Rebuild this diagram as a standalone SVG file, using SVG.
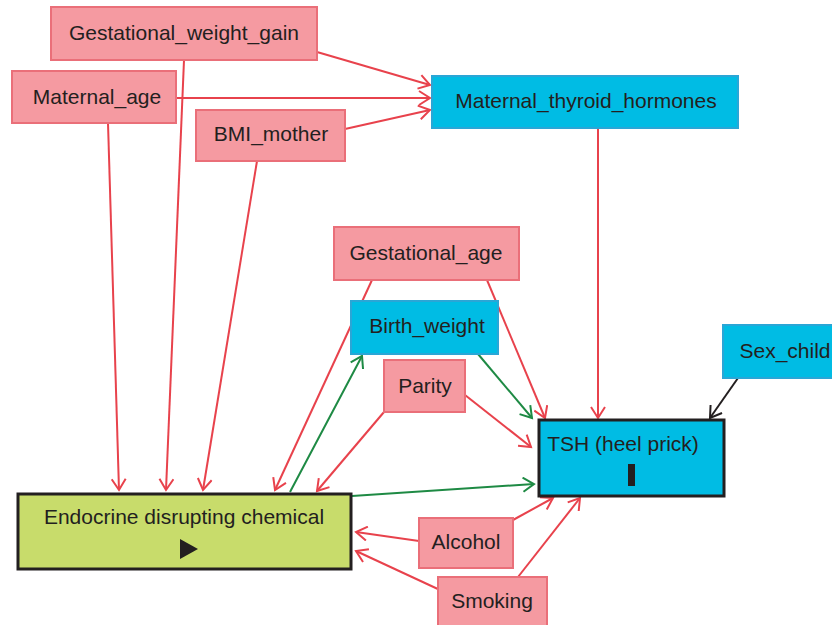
<svg xmlns="http://www.w3.org/2000/svg" width="832" height="625" viewBox="0 0 832 625">
<style>
.pink{fill:#f59aa1;stroke:#ea6f79;stroke-width:2}
.blue{fill:#00bce4;stroke:#2aa6d6;stroke-width:2}
.tsh{fill:#00bce4;stroke:#231f20;stroke-width:3}
.edc{fill:#c8dc6b;stroke:#231f20;stroke-width:3}
text{font-family:"Liberation Sans",Arial,sans-serif;font-size:21px;fill:#231f20;text-anchor:middle}
.r{stroke:#e8424c;stroke-width:2;fill:none;marker-end:url(#ar)}
.g{stroke:#1e8a44;stroke-width:2;fill:none;marker-end:url(#ag)}
.k{stroke:#231f20;stroke-width:2;fill:none;marker-end:url(#ak)}
</style>
<defs>
<marker id="ar" markerUnits="userSpaceOnUse" markerWidth="16" markerHeight="16" refX="13" refY="8" orient="auto" viewBox="0 0 16 16"><path d="M2,1 L13,8 L2,15" fill="none" stroke="#e8424c" stroke-width="2"/></marker>
<marker id="ag" markerUnits="userSpaceOnUse" markerWidth="16" markerHeight="16" refX="13" refY="8" orient="auto" viewBox="0 0 16 16"><path d="M2,1 L13,8 L2,15" fill="none" stroke="#1e8a44" stroke-width="2"/></marker>
<marker id="ak" markerUnits="userSpaceOnUse" markerWidth="16" markerHeight="16" refX="13" refY="8" orient="auto" viewBox="0 0 16 16"><path d="M2,1 L13,8 L2,15" fill="none" stroke="#231f20" stroke-width="2"/></marker>
</defs>
<g id="connectors">
<line class="r" x1="317" y1="52" x2="430" y2="85"/>
<line class="r" x1="176" y1="98" x2="430" y2="98"/>
<line class="r" x1="345" y1="129" x2="430" y2="110"/>
<line class="r" x1="598" y1="128" x2="598" y2="418"/>
<line class="r" x1="108" y1="123" x2="119" y2="490"/>
<line class="r" x1="184" y1="60" x2="166" y2="490"/>
<line class="r" x1="257" y1="161" x2="203" y2="490"/>
<line class="r" x1="372" y1="280" x2="275" y2="490"/>
<line class="r" x1="487" y1="280" x2="545" y2="418"/>
<line class="g" x1="478" y1="354" x2="532" y2="418"/>
<line class="r" x1="465" y1="395" x2="531" y2="447"/>
<line class="r" x1="384" y1="412" x2="317" y2="491"/>
<line class="g" x1="290" y1="492" x2="362" y2="356"/>
<line class="g" x1="352" y1="496" x2="534" y2="484"/>
<line class="r" x1="419" y1="541" x2="356" y2="532"/>
<line class="r" x1="440" y1="590" x2="356" y2="551"/>
<line class="r" x1="513" y1="520" x2="553" y2="498"/>
<line class="r" x1="518" y1="577" x2="580" y2="498"/>
<line class="k" x1="738" y1="378" x2="710" y2="418"/>
</g>
<g id="n_gwg"><rect class="pink" x="51" y="7" width="266" height="53"/><text x="184" y="40">Gestational_weight_gain</text></g>
<g id="n_mage"><rect class="pink" x="12" y="71" width="164" height="52"/><text x="97" y="104">Maternal_age</text></g>
<g id="n_bmi"><rect class="pink" x="196" y="110" width="149" height="51"/><text x="271" y="141">BMI_mother</text></g>
<g id="n_mth"><rect class="blue" x="432" y="76" width="306" height="52"/><text x="586" y="108">Maternal_thyroid_hormones</text></g>
<g id="n_gage"><rect class="pink" x="334" y="227" width="185" height="53"/><text x="426" y="260">Gestational_age</text></g>
<g id="n_bw"><rect class="blue" x="351" y="301" width="147" height="53"/><text x="427" y="333">Birth_weight</text></g>
<g id="n_parity"><rect class="pink" x="384" y="360" width="81" height="52"/><text x="425" y="393">Parity</text></g>
<g id="n_sex"><rect class="blue" x="723" y="325" width="112" height="53"/><text x="785" y="358">Sex_child</text></g>
<g id="n_tsh"><rect class="tsh" x="539" y="420" width="185" height="76"/><text x="623" y="451">TSH (heel prick)</text><rect x="628" y="464" width="7" height="22" fill="#231f20"/></g>
<g id="n_edc"><rect class="edc" x="18" y="494" width="333" height="75"/><text x="184" y="524">Endocrine disrupting chemical</text><path d="M180,539 L198,549 L180,559 Z" fill="#231f20"/></g>
<g id="n_alcohol"><rect class="pink" x="419" y="518" width="94" height="50"/><text x="466" y="549">Alcohol</text></g>
<g id="n_smoking"><rect class="pink" x="438" y="577" width="109" height="50"/><text x="492" y="608">Smoking</text></g>
</svg>
